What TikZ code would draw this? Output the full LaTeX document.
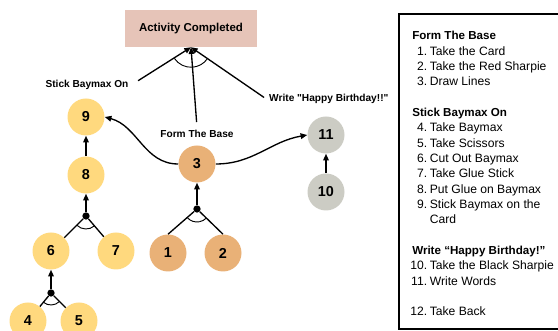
\documentclass[tikz,border=0pt]{standalone}
\usepackage{fontspec}
\setmainfont{Liberation Sans}
\newfontfamily\plainquotes[Ligatures=TeXOff]{Liberation Sans}
\usetikzlibrary{arrows.meta,calc}
\definecolor{cyel}{HTML}{FFD97E}
\definecolor{corg}{HTML}{E9B177}
\definecolor{cgry}{HTML}{CCCCC4}
\definecolor{cbox}{HTML}{E6C4B8}
\newcommand{\lghead}[1]{\multicolumn{2}{@{\hspace{1.5pt}}l@{}}{\fontsize{8.7}{11.51}\selectfont\bfseries #1}}
\begin{document}
\begin{tikzpicture}[x=0.75pt,y=0.75pt,
  circ/.style={circle,draw=none,inner sep=0pt,minimum size=27.75pt,
    font=\fontsize{10.8}{12}\selectfont\bfseries},
  ycirc/.style={circ,fill=cyel},
  ocirc/.style={circ,fill=corg},
  gcirc/.style={circ,fill=cgry},
  goalbox/.style={fill=cbox,draw=none,minimum width=99pt,minimum height=27.75pt,
    inner sep=0pt,font=\fontsize{8.6}{10}\selectfont\bfseries},
  lbl/.style={font=\fontsize{7.6}{9}\selectfont\bfseries,inner sep=2pt},
  arr/.style={line width=1pt,-{Triangle[length=5pt,width=4.2pt]}},
  ln/.style={line width=1pt},
  andarc/.style={line width=0.7pt},
  jdot/.style={circle,fill=black,inner sep=0pt,minimum size=5.5pt},
]
\useasboundingbox (0,0) rectangle (558,331);
\clip (0,0) rectangle (558,331);

% goal
\node[goalbox] (ac) at (191,302.5) {Activity Completed};

% group labels
\node[lbl] (lsb) at (87,246) {Stick Baymax On};
\node[lbl] (lfb) at (197,197) {Form The Base};
\node[lbl,anchor=west] (lwh) at (266.3,232) {\plainquotes\bfseries Write "Happy Birthday!!"};

\draw[arr,shorten <=6pt] (lsb.east) -- (ac.south);
\draw[arr,shorten <=4pt] (lfb.north) -- (ac.south);
\draw[arr,shorten <=2pt] (lwh.west) -- (ac.south);
\draw[andarc] ($(ac.south)+(214:20)$) arc[start angle=214,end angle=324,radius=20];

% nodes
\node[ycirc] (n9) at (86,214) {9};
\node[ycirc] (n8) at (86,156) {8};
\node[jdot]  (d8) at (86,115) {};
\node[ycirc] (n6) at (51,80) {6};
\node[ycirc] (n7) at (116,80) {7};
\node[jdot]  (d6) at (51,38) {};
\node[ycirc] (n4) at (28,10) {4};
\node[ycirc] (n5) at (79,10) {5};
\node[ocirc] (n3) at (197,167) {3};
\node[jdot]  (d3) at (197,122) {};
\node[ocirc] (n1) at (168,78) {1};
\node[ocirc] (n2) at (223,78) {2};
\node[gcirc] (n11) at (326,196) {11};
\node[gcirc] (n10) at (326,139) {10};

% edges
\draw[arr] (n8) -- (n9);
\draw[arr] (d8) -- (n8);
\draw[ln] (d8) -- (n6);
\draw[ln] (d8) -- (n7);
\draw[andarc] ($(d8)+(225:13)$) arc[start angle=225,end angle=310.6,radius=13];
\draw[arr] (d6) -- (n6);
\draw[ln] (d6) -- (n4);
\draw[ln] (d6) -- (n5);
\draw[andarc] ($(d6)+(230.6:12)$) arc[start angle=230.6,end angle=315,radius=12];
\draw[arr] (d3) -- (n3);
\draw[ln] (d3) -- (n1.north);
\draw[ln] (d3) -- (n2.north);
\draw[andarc] ($(d3)+(221.3:13)$) arc[start angle=221.3,end angle=315.6,radius=13];
\draw[arr] (n10) -- (n11);
\draw[arr] (n3.west) to[out=180,in=-15] (n9.east);
\draw[arr] (n3.east) to[out=0,in=190] (n11.west);

% legend panel
\draw[line width=1pt] (399,2) rectangle (575,317);
\node[anchor=base west,inner sep=0pt] (legend) at (410,291.3) {%
  \fontsize{9.1}{11.51}\selectfont\renewcommand{\arraystretch}{1}%
  \begin{tabular}[t]{@{}r@{\hspace{2pt}}l@{}}
  \lghead{Form The Base}\\
  1. & Take the Card\\
  2. & Take the Red Sharpie\\
  3. & Draw Lines\\
  & \\
  \lghead{Stick Baymax On}\\
  4. & Take Baymax\\
  5. & Take Scissors\\
  6. & Cut Out Baymax\\
  7. & Take Glue Stick\\
  8. & Put Glue on Baymax\\
  9. & Stick Baymax on the\\
   & Card\\
  & \\
  \lghead{Write “Happy Birthday!”}\\
  10. & Take the Black Sharpie\\
  11. & Write Words\\
  & \\
  12. & Take Back
  \end{tabular}};
\end{tikzpicture}
\end{document}
